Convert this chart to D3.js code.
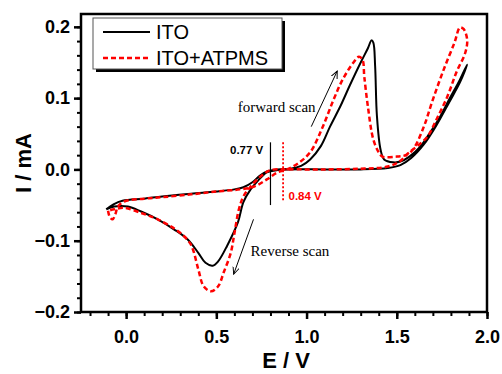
<!DOCTYPE html>
<html>
<head>
<meta charset="utf-8">
<script src="https://cdn.jsdelivr.net/npm/d3@7"></script>
<style>
  body { margin: 0; background: #fff; }
  text { font-family: Arial, "Liberation Sans", sans-serif; }
</style>
</head>
<body>
<div id="canvas"></div>
<script>
// ITO (black) cyclic voltammogram, forward then reverse
const itoE = [-0.11, -0.07, -0.02, 0.1, 0.2, 0.36, 0.5, 0.6, 0.65, 0.7, 0.74, 0.78, 0.84, 0.91, 0.97, 1.02, 1.08, 1.13, 1.19, 1.24, 1.30, 1.34, 1.36, 1.37, 1.38, 1.39, 1.41, 1.43, 1.48, 1.52, 1.57, 1.63, 1.68, 1.74, 1.79, 1.85, 1.89,
  1.85, 1.79, 1.72, 1.65, 1.58, 1.52, 1.45, 1.3, 1.1, 0.9, 0.84, 0.78, 0.73, 0.69, 0.65, 0.62, 0.56, 0.51, 0.48, 0.44, 0.40, 0.34, 0.265, 0.175, 0.083, 0.01, -0.066, -0.11];
const itoI = [-0.056, -0.049, -0.044, -0.041, -0.038, -0.034, -0.031, -0.028, -0.025, -0.018, -0.009, -0.003, 0.0, 0.001, 0.005, 0.014, 0.033, 0.06, 0.09, 0.118, 0.15, 0.17, 0.181, 0.178, 0.145, 0.075, 0.028, 0.014, 0.01, 0.011, 0.018, 0.032, 0.05, 0.074, 0.098, 0.126, 0.147,
  0.122, 0.094, 0.062, 0.035, 0.016, 0.006, 0.002, 0.0, 0.0, 0.0, -0.001, -0.004, -0.016, -0.028, -0.046, -0.074, -0.107, -0.129, -0.135, -0.131, -0.117, -0.098, -0.084, -0.07, -0.059, -0.052, -0.052, -0.056];

// ITO+ATPMS (red dashed)
const atpmsE = [-0.1, -0.09, -0.075, -0.06, -0.045, -0.01, 0.1, 0.2, 0.36, 0.5, 0.63, 0.71, 0.78, 0.84, 0.89, 0.95, 1.02, 1.09, 1.15, 1.20, 1.26, 1.29, 1.31, 1.32, 1.34, 1.37, 1.40, 1.42, 1.50, 1.55, 1.59, 1.65, 1.70, 1.76, 1.82, 1.85, 1.87, 1.89,
  1.88, 1.83, 1.78, 1.72, 1.67, 1.61, 1.56, 1.52, 1.45, 1.3, 1.1, 0.9, 0.80, 0.745, 0.69, 0.65, 0.625, 0.6, 0.58, 0.54, 0.51, 0.47, 0.43, 0.40, 0.37, 0.35, 0.29, 0.175, 0.083, -0.01, -0.066, -0.1];
const atpmsI = [-0.058, -0.067, -0.07, -0.063, -0.052, -0.045, -0.041, -0.039, -0.035, -0.031, -0.028, -0.024, -0.014, -0.004, 0.0, 0.008, 0.024, 0.06, 0.098, 0.126, 0.15, 0.158, 0.154, 0.13, 0.088, 0.042, 0.024, 0.018, 0.018, 0.02, 0.028, 0.06, 0.098, 0.14, 0.178, 0.199, 0.197, 0.182,
  0.164, 0.136, 0.102, 0.07, 0.046, 0.032, 0.022, 0.012, 0.004, 0.001, 0.0, 0.0, -0.001, -0.01, -0.024, -0.038, -0.056, -0.09, -0.117, -0.145, -0.164, -0.171, -0.164, -0.14, -0.112, -0.102, -0.087, -0.07, -0.061, -0.054, -0.056, -0.058];

const seriesNames = ["ITO", "ITO+ATPMS"];
const xTicks = [0.0, 0.5, 1.0, 1.5, 2.0];
const yTicks = [-0.2, -0.1, 0.0, 0.1, 0.2];

// onset potentials marked with vertical lines
const onsetLabels = ["0.77 V", "0.84 V"];
const onsetE = [0.8, 0.87];

const width = 502, height = 374;
const margin = { top: 14, right: 15, bottom: 62, left: 81 };

const svg = d3.select("#canvas").append("svg")
  .attr("width", width)
  .attr("height", height);

const x = d3.scaleLinear().domain([-0.25, 2.0]).range([margin.left, width - margin.right]);
const y = d3.scaleLinear().domain([-0.2, 0.218]).range([height - margin.bottom, margin.top]);

// minor ticks first, majors on top
svg.append("g")
  .attr("transform", "translate(0," + y(-0.2) + ")")
  .call(d3.axisBottom(x).tickValues(d3.range(-0.2, 2.001, 0.1)).tickSize(4).tickFormat(""))
  .call(g => g.select(".domain").remove())
  .selectAll("line").attr("stroke-width", 2);
svg.append("g")
  .attr("transform", "translate(" + x(-0.25) + ",0)")
  .call(d3.axisLeft(y).tickValues(d3.range(-0.2, 0.2001, 0.02)).tickSize(4).tickFormat(""))
  .call(g => g.select(".domain").remove())
  .selectAll("line").attr("stroke-width", 2);

const xAxis = svg.append("g")
  .attr("transform", "translate(0," + y(-0.2) + ")")
  .call(d3.axisBottom(x).tickValues(xTicks).tickSize(7).tickPadding(11).tickFormat(d3.format(".1f")));
xAxis.select(".domain").remove();
xAxis.selectAll("line").attr("stroke-width", 2.5);
xAxis.selectAll("text").style("font-size", "18px").style("font-weight", "bold").attr("fill", "#000");

const yAxis = svg.append("g")
  .attr("transform", "translate(" + x(-0.25) + ",0)")
  .call(d3.axisLeft(y).tickValues(yTicks).tickSize(7).tickPadding(4).tickFormat(d3.format(".1f")));
yAxis.select(".domain").remove();
yAxis.selectAll("line").attr("stroke-width", 2.5);
yAxis.selectAll("text").style("font-size", "18px").style("font-weight", "bold").attr("fill", "#000");

// frame
svg.append("rect")
  .attr("x", x(-0.25)).attr("y", y(0.218))
  .attr("width", x(2.0) - x(-0.25)).attr("height", y(-0.2) - y(0.218))
  .attr("fill", "none").attr("stroke", "#000").attr("stroke-width", 2.5);

const line = d3.line()
  .x(d => x(d[0]))
  .y(d => y(d[1]))
  .curve(d3.curveCatmullRom.alpha(0.5));

svg.append("path")
  .datum(d3.zip(itoE, itoI))
  .attr("d", line)
  .attr("fill", "none").attr("stroke", "#000").attr("stroke-width", 2);

svg.append("path")
  .datum(d3.zip(atpmsE, atpmsI))
  .attr("d", line)
  .attr("fill", "none").attr("stroke", "#ff0000").attr("stroke-width", 2.5)
  .attr("stroke-dasharray", "5,3");

// onset markers
svg.append("line")
  .attr("x1", x(onsetE[0])).attr("x2", x(onsetE[0]))
  .attr("y1", y(0.038)).attr("y2", y(-0.05))
  .attr("stroke", "#000").attr("stroke-width", 1.2);
svg.append("line")
  .attr("x1", x(onsetE[1])).attr("x2", x(onsetE[1]))
  .attr("y1", y(0.038)).attr("y2", y(-0.045))
  .attr("stroke", "#ff0000").attr("stroke-width", 1.8).attr("stroke-dasharray", "2,2");

svg.append("text")
  .attr("x", x(0.76)).attr("y", y(0.022))
  .attr("text-anchor", "end")
  .style("font-size", "11.5px").style("font-weight", "bold")
  .text(onsetLabels[0]);
svg.append("text")
  .attr("x", x(0.9)).attr("y", y(-0.043))
  .attr("fill", "#ff0000")
  .style("font-size", "11.5px").style("font-weight", "bold")
  .text(onsetLabels[1]);

// scan direction arrows
svg.append("defs").append("marker")
  .attr("id", "arrow")
  .attr("viewBox", "0 0 10 10")
  .attr("refX", 9).attr("refY", 5)
  .attr("markerWidth", 8).attr("markerHeight", 8)
  .attr("orient", "auto")
  .append("path")
  .attr("d", "M0,1 L9,5 L0,9")
  .attr("fill", "none").attr("stroke", "#000").attr("stroke-width", 1.2);

svg.append("line")
  .attr("x1", x(1.026)).attr("y1", y(0.06))
  .attr("x2", x(1.17)).attr("y2", y(0.138))
  .attr("stroke", "#000").attr("stroke-width", 1)
  .attr("marker-end", "url(#arrow)");
svg.append("line")
  .attr("x1", x(0.706)).attr("y1", y(-0.07))
  .attr("x2", x(0.596)).attr("y2", y(-0.147))
  .attr("stroke", "#000").attr("stroke-width", 1)
  .attr("marker-end", "url(#arrow)");

svg.append("text")
  .attr("x", x(1.05)).attr("y", y(0.081))
  .attr("text-anchor", "end")
  .style("font-family", "'Liberation Serif', 'Times New Roman', serif")
  .style("font-size", "15px")
  .text("forward scan");
svg.append("text")
  .attr("x", x(0.69)).attr("y", y(-0.122))
  .style("font-family", "'Liberation Serif', 'Times New Roman', serif")
  .style("font-size", "15px")
  .text("Reverse scan");

// legend
const legend = svg.append("g").attr("transform", "translate(93,18)");
legend.append("rect")
  .attr("x", 3).attr("y", 3).attr("width", 189).attr("height", 51)
  .attr("fill", "#000");
legend.append("rect")
  .attr("x", 0).attr("y", 0).attr("width", 189).attr("height", 51)
  .attr("fill", "#fff").attr("stroke", "#555").attr("stroke-width", 1);
seriesNames.forEach((name, i) => {
  legend.append("line")
    .attr("x1", 10).attr("x2", 57)
    .attr("y1", 14 + i * 26).attr("y2", 14 + i * 26)
    .attr("stroke", i === 0 ? "#000" : "#ff0000")
    .attr("stroke-width", i === 0 ? 2 : 2.5)
    .attr("stroke-dasharray", i === 0 ? null : "5,3");
  legend.append("text")
    .attr("x", 63).attr("y", 21 + i * 26)
    .style("font-size", "20px")
    .text(name);
});

// axis titles
svg.append("text")
  .attr("x", (x(-0.25) + x(2.0)) / 2 + 2).attr("y", 368)
  .attr("text-anchor", "middle")
  .style("font-size", "22px").style("font-weight", "bold")
  .text("E / V");
svg.append("text")
  .attr("transform", "translate(31," + (y(0.218) + y(-0.2)) / 2 + ") rotate(-90)")
  .attr("text-anchor", "middle")
  .style("font-size", "22px").style("font-weight", "bold")
  .text("I / mA");
</script>
</body>
</html>
